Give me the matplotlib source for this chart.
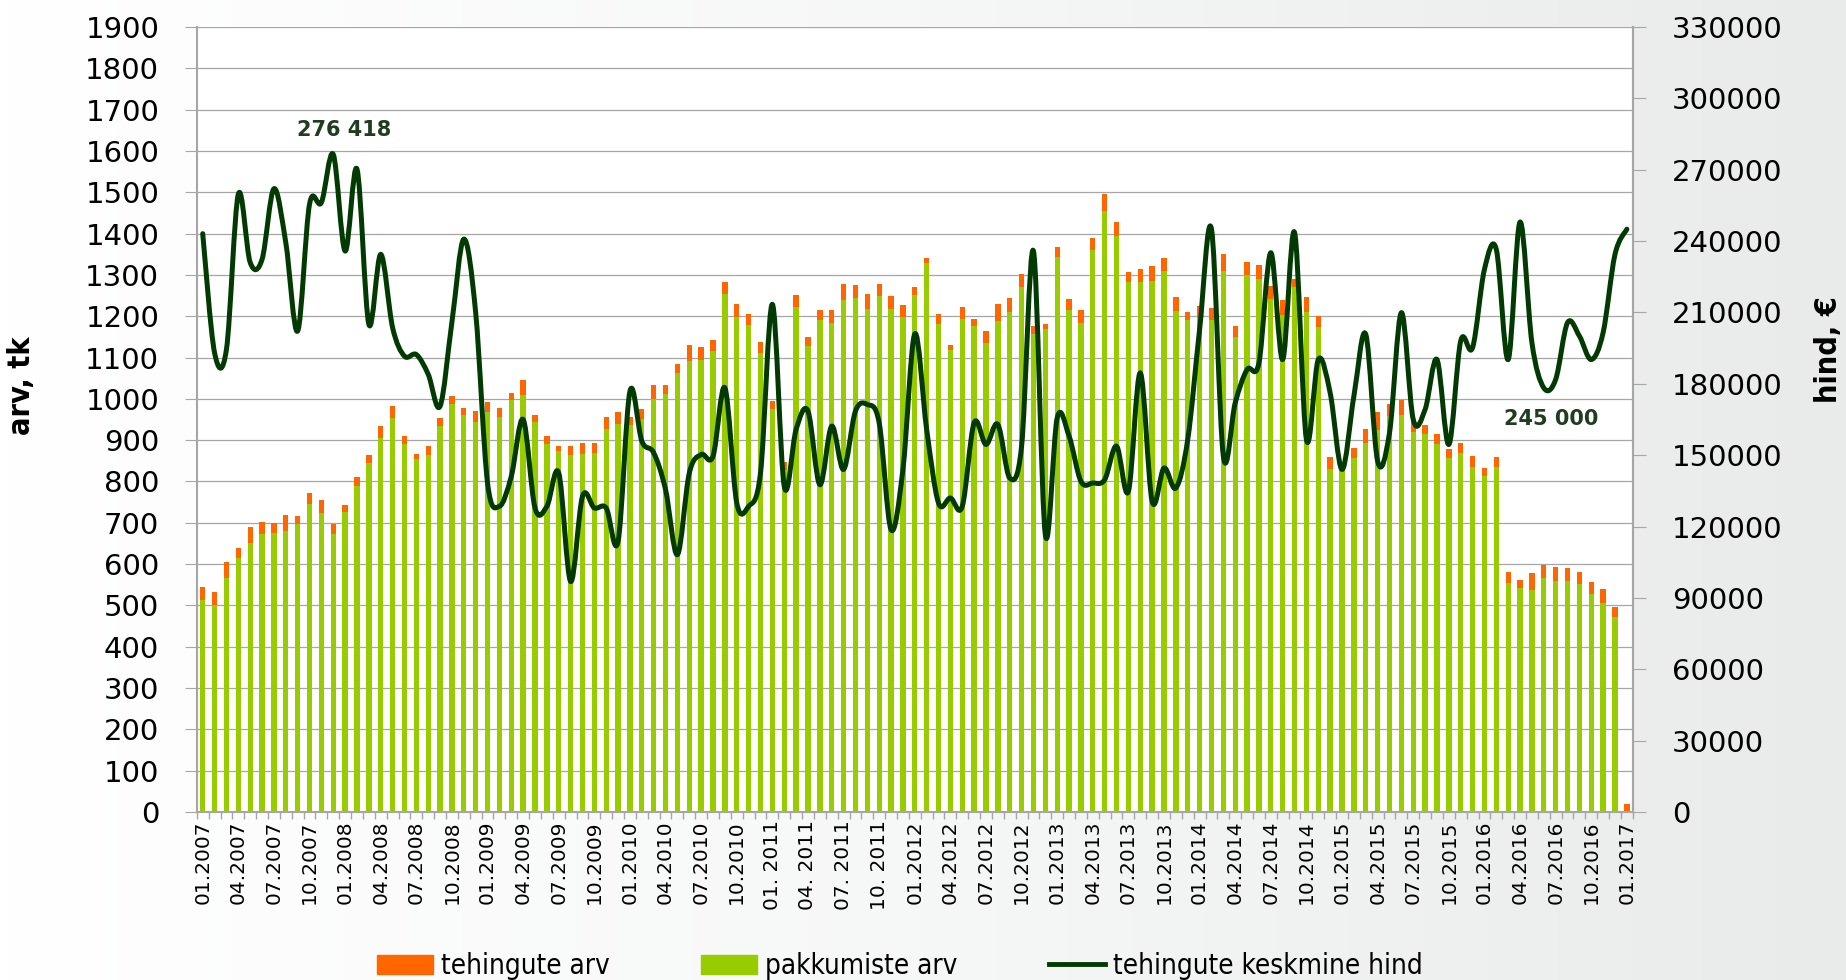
import matplotlib.pyplot as plt
import numpy as np
from matplotlib.path import Path
from matplotlib.patches import PathPatch, Patch
from matplotlib.lines import Line2D
from matplotlib import font_manager

# monthly values 01.2007 .. 01.2017
pakkumiste_arv = [513, 501, 567, 615, 650, 673, 676, 681, 696, 746, 724, 673,
                  727, 789, 845, 906, 954, 890, 854, 865, 934, 988, 962, 945,
                  967, 955, 998, 1010, 944, 890, 873, 865, 867, 869, 926, 940,
                  936, 950, 1000, 1012, 1063, 1091, 1093, 1115, 1254, 1198, 1178, 1110,
                  975, 827, 1223, 1128, 1190, 1184, 1240, 1243, 1217, 1249, 1217, 1198,
                  1251, 1328, 1182, 1118, 1192, 1176, 1135, 1189, 1210, 1270, 1158, 1170,
                  1343, 1216, 1184, 1359, 1455, 1393, 1282, 1282, 1284, 1309, 1212, 1190,
                  1195, 1190, 1309, 1150, 1299, 1290, 1242, 1204, 1271, 1210, 1173, 831,
                  830, 858, 893, 924, 958, 962, 919, 916, 891, 858, 870, 835,
                  813, 834, 554, 543, 538, 566, 560, 558, 552, 528, 507, 471,
                  0]
tehingute_arv = [32, 31, 37, 25, 41, 29, 23, 37, 20, 27, 32, 24,
                 16, 22, 20, 28, 29, 20, 13, 20, 20, 20, 17, 25,
                 25, 22, 15, 35, 18, 20, 12, 22, 25, 23, 29, 28,
                 21, 25, 34, 22, 21, 39, 32, 27, 29, 31, 27, 28,
                 19, 20, 28, 21, 24, 32, 39, 32, 36, 29, 31, 28,
                 20, 14, 24, 12, 30, 17, 29, 40, 35, 32, 18, 11,
                 24, 26, 31, 31, 40, 36, 26, 31, 38, 32, 34, 20,
                 30, 29, 41, 26, 32, 34, 32, 36, 19, 36, 28, 29,
                 15, 24, 33, 44, 29, 36, 33, 21, 25, 21, 24, 27,
                 20, 25, 28, 19, 40, 32, 34, 32, 30, 28, 32, 25,
                 19]
keskmine_hind = [243100, 193000, 194500, 259700, 231000, 232300, 262000, 239300, 202200, 255500, 256200, 276418,
                 235800, 270200, 205000, 234400, 203600, 191600, 192300, 184000, 170600, 206000, 240800, 209900,
                 138300, 128500, 141100, 165000, 127800, 128500, 142500, 96900, 132700, 127800, 127800, 113800,
                 176900, 155900, 151000, 135500, 108200, 142500, 150300, 149600, 178300, 129900, 128500, 142500,
                 213400, 136900, 160800, 168500, 137600, 162200, 144000, 168500, 171300, 163600, 118700, 144000,
                 201000, 160800, 129900, 132000, 128500, 163600, 154500, 162900, 140400, 153800, 235800, 116600,
                 165700, 158000, 139000, 138300, 139700, 153800, 134800, 184600, 130600, 144600, 136200, 156600,
                 202900, 245000, 149600, 172000, 186000, 188800, 235100, 190200, 243600, 156600, 190200, 176200,
                 144000, 174800, 200800, 147500, 159400, 209900, 165000, 169200, 190200, 154500, 198000, 195200,
                 228100, 236500, 190200, 248000, 197300, 178300, 181800, 205700, 200100, 190200, 201500, 234400,
                 245000]
kuu_sildid = ["01.2007", "04.2007", "07.2007", "10.2007", "01.2008", "04.2008", "07.2008", "10.2008",
              "01.2009", "04.2009", "07.2009", "10.2009", "01.2010", "04.2010", "07.2010", "10.2010",
              "01. 2011", "04. 2011", "07. 2011", "10. 2011", "01.2012", "04.2012", "07.2012", "10.2012",
              "01.2013", "04.2013", "07.2013", "10.2013", "01.2014", "04.2014", "07.2014", "10.2014",
              "01.2015", "04.2015", "07.2015", "10.2015", "01.2016", "04.2016", "07.2016", "10.2016",
              "01.2017"]

ROHELINE = '#99CC00'
ORANZ = '#FF6600'
JOON = '#033a03'

# a narrow font for legend and axis titles, if one is installed
have_condensed = any('condensed' in str(f.stretch).lower() or 'Narrow' in f.name
                     for f in font_manager.fontManager.ttflist)
NARROW = dict(family='DejaVu Sans', stretch='condensed') if have_condensed else dict(family='DejaVu Sans')
leg_size = 20 if have_condensed else 18


def smooth_path(xs, ys):
    # bezier curve through the points, like the smoothed line in excel
    pts = np.column_stack([xs, ys]).astype(float)
    n = len(pts)
    verts = [pts[0]]
    codes = [Path.MOVETO]
    for i in range(n - 1):
        p0 = pts[max(i - 1, 0)]
        p1 = pts[i]
        p2 = pts[i + 1]
        p3 = pts[min(i + 2, n - 1)]
        verts += [p1 + (p2 - p0) / 6, p2 - (p3 - p1) / 6, p2]
        codes += [Path.CURVE4] * 3
    return Path(verts, codes)


x = np.arange(len(keskmine_hind))

fig = plt.figure(figsize=(18.46, 9.80), dpi=100)

# light background gradient
bg = fig.add_axes([0, 0, 1, 1], zorder=-10)
grad = np.tile(np.linspace(0, 1, 256), (2, 1))
bg.imshow(grad, extent=[0, 1, 0, 1], aspect='auto', cmap=plt.matplotlib.colors.LinearSegmentedColormap.from_list(
    'bg', ['#ffffff', '#f6f7f7', '#e9ebea']))
bg.axis('off')

ax = fig.add_axes([0.1066, 0.1714, 0.7779, 0.8011])
ax.set_facecolor('white')
ax.bar(x, pakkumiste_arv, width=0.45, color=ROHELINE, zorder=2)
ax.bar(x, tehingute_arv, width=0.45, bottom=pakkumiste_arv, color=ORANZ, zorder=2)

ax.set_xlim(-0.5, len(x) - 0.5)
ax.set_ylim(0, 1900)
ax.set_yticks(np.arange(0, 1901, 100))
ax.grid(axis='y', color='#a6a6a6', linewidth=0.9)
ax.set_axisbelow(True)
ax.tick_params(axis='y', labelsize=21, length=9, color='#a6a6a6', pad=18)
ax.set_xticks(x[::3])
ax.set_xticklabels(kuu_sildid, rotation=90, fontsize=14.5)
ax.tick_params(axis='x', which='major', length=0, pad=6)
ax.set_xticks(np.arange(-0.5, len(x), 1), minor=True)
ax.tick_params(axis='x', which='minor', length=5, color='#a6a6a6', width=1)
ax.spines['top'].set_visible(False)
for s in ['left', 'right', 'bottom']:
    ax.spines[s].set_color('#a6a6a6')
    ax.spines[s].set_linewidth(1.5)

ax2 = ax.twinx()
ax2.set_ylim(0, 330000)
ax2.set_yticks(np.arange(0, 330001, 30000))
ax2.tick_params(axis='y', labelsize=21, length=9, color='#a6a6a6', pad=19)
ax2.spines['top'].set_visible(False)
ax2.spines['right'].set_color('#a6a6a6')
ax2.spines['right'].set_linewidth(1.5)
ax2.spines['left'].set_visible(False)
ax2.spines['bottom'].set_visible(False)
ax2.add_patch(PathPatch(smooth_path(x, keskmine_hind), facecolor='none', edgecolor=JOON,
                        linewidth=3.6, capstyle='round', joinstyle='round', zorder=3))

imax = int(np.argmax(keskmine_hind))
ax2.text(imax + 0.95, 286600, f"{keskmine_hind[imax]:,}".replace(',', ' '), ha='center', va='center',
         fontsize=15, fontweight='bold', color='#203d20')
ax2.text(113.6, 165000, f"{keskmine_hind[-1]:,}".replace(',', ' '), ha='center', va='center',
         fontsize=15, fontweight='bold', color='#203d20')

fig.text(0.0114, 0.606, 'arv, tk', rotation=90, ha='center', va='center', fontsize=22,
         fontweight='bold', **NARROW)
fig.text(0.9903, 0.643, 'hind, €', rotation=90, ha='center', va='center', fontsize=22,
         fontweight='bold', **NARROW)

handles = [Patch(color=ORANZ), Patch(color=ROHELINE), Line2D([], [], color=JOON, lw=3.5)]
labels = ['tehingute arv', 'pakkumiste arv', 'tehingute keskmine hind']
fig.legend(handles, labels, loc='center', bbox_to_anchor=(0.4875, 0.0143), ncol=3, frameon=False,
           handlelength=2.0, handletextpad=0.3, columnspacing=3.3,
           prop=dict(size=leg_size, **NARROW))

fig.savefig('out.png', dpi=100)
